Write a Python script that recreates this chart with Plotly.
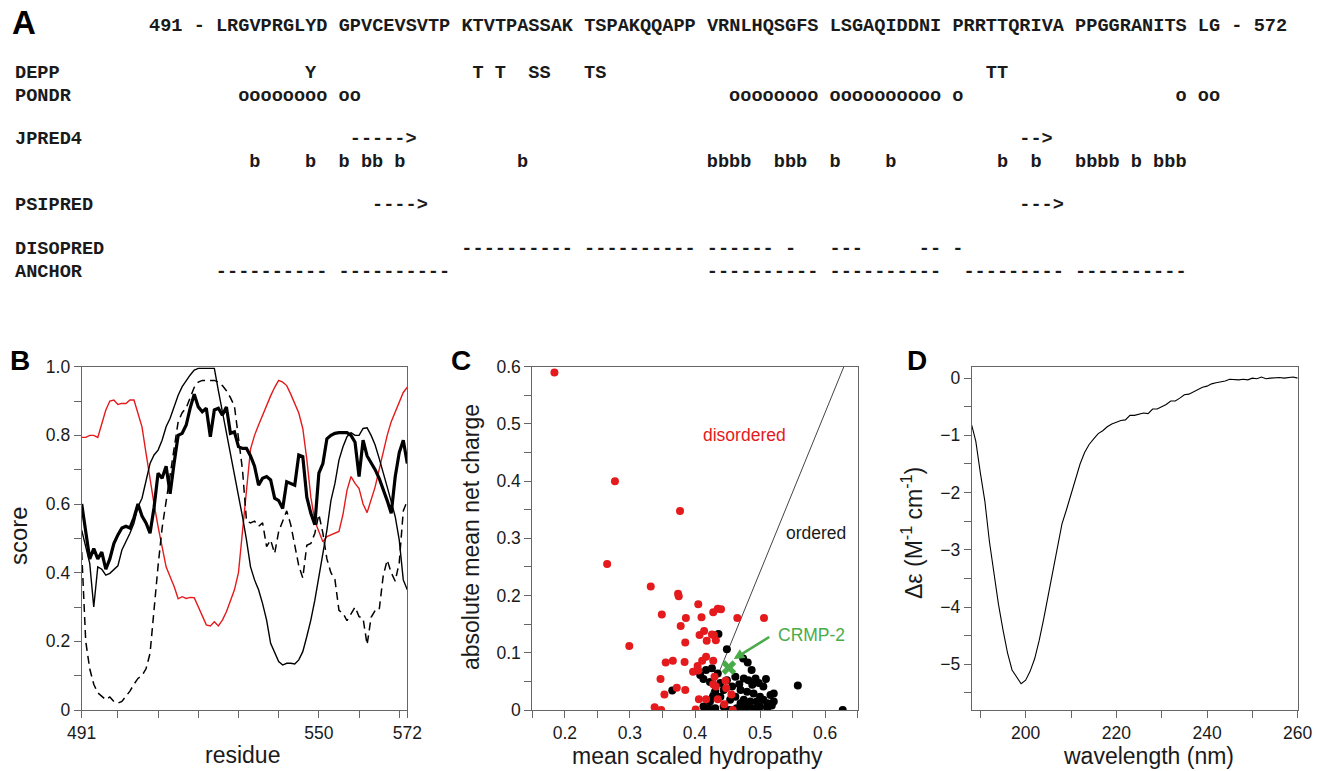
import plotly.graph_objects as go

W, H = 1321, 771

# ---------------- Panel A data ----------------
sequence = "LRGVPRGLYDGPVCEVSVTPKTVTPASSAKTSPAKQQAPPVRNLHQSGFSLSGAQIDDNIPRRTTQRIVAPPGGRANITSLG"
seq_start, seq_end = 491, 572
track_labels = ["DEPP", "PONDR", "JPRED4", "", "PSIPRED", "DISOPRED", "ANCHOR"]
track_marks = [
    "        Y " + "          " + " T T  SS  " + "TS        " + "          " + "          " + "   TT     " + "          " + "  ",
    "  oooooooo" + "oo        " + "          " + "          " + "  oooooooo" + "oooooooooo" + "o         " + "         o" + "oo",
    "          " + " ----->   " + "          " + "          " + "          " + "          " + "      --> " + "          " + "  ",
    "   b    b " + "b bb b    " + "     b    " + "          " + "bbbb  bbb " + "b    b    " + "    b  b  " + "bbbb b bbb" + "  ",
    "          " + "   ---->  " + "          " + "          " + "          " + "          " + "      --->" + "          " + "  ",
    "          " + "          " + "----------" + "----------" + "------ -  " + "---     --" + "-         " + "          " + "  ",
    "----------" + "----------" + "          " + "          " + "----------" + "----------" + " ---------" + "----------" + "  ",
]
for m in track_marks:
    assert len(m) == len(sequence), len(m)

# ---------------- Panel B data ----------------
residues = list(range(491, 573))
score_red = [
    0.794, 0.794, 0.80, 0.80, 0.794, 0.835, 0.874, 0.90, 0.903, 0.89,
    0.893, 0.893, 0.903, 0.903, 0.864, 0.825, 0.748, 0.67, 0.60, 0.534,
    0.476, 0.417, 0.388, 0.36, 0.324, 0.33, 0.325, 0.328, 0.327, 0.30,
    0.277, 0.248, 0.245, 0.257, 0.245, 0.262, 0.286, 0.316, 0.35, 0.40,
    0.51, 0.64, 0.76, 0.80, 0.83, 0.86, 0.89, 0.915, 0.94, 0.96,
    0.955, 0.945, 0.92, 0.89, 0.865, 0.82, 0.73, 0.62, 0.55, 0.52,
    0.49, 0.505, 0.51, 0.515, 0.52, 0.57, 0.64, 0.68, 0.66, 0.645,
    0.60, 0.575, 0.61, 0.65, 0.70, 0.75, 0.80, 0.84, 0.87, 0.90,
    0.925, 0.94,
]
score_thick = [
    0.60, 0.52, 0.44, 0.47, 0.44, 0.46, 0.41, 0.44, 0.485, 0.51,
    0.53, 0.535, 0.53, 0.56, 0.60, 0.565, 0.545, 0.515, 0.59, 0.69,
    0.675, 0.71, 0.63, 0.72, 0.80, 0.806, 0.83, 0.88, 0.92, 0.883,
    0.869, 0.879, 0.796, 0.874, 0.879, 0.859, 0.883, 0.806, 0.81, 0.767,
    0.762, 0.762, 0.74, 0.71, 0.655, 0.675, 0.68, 0.67, 0.617, 0.61,
    0.587, 0.665, 0.66, 0.655, 0.743, 0.738, 0.62, 0.573, 0.54, 0.69,
    0.718, 0.79, 0.80, 0.806, 0.808, 0.808, 0.808, 0.80, 0.78, 0.68,
    0.786, 0.74, 0.72, 0.70, 0.675, 0.645, 0.61, 0.573, 0.68, 0.75,
    0.786, 0.718,
]
score_thin = [
    0.524, 0.476, 0.427, 0.30, 0.417, 0.41, 0.393, 0.398, 0.408, 0.42,
    0.466, 0.49, 0.515, 0.544, 0.592, 0.617, 0.67, 0.718, 0.743, 0.757,
    0.786, 0.825, 0.85, 0.883, 0.917, 0.942, 0.961, 0.976, 0.99, 0.995,
    0.995, 0.995, 0.995, 0.995, 0.93, 0.87, 0.806, 0.74, 0.68, 0.62,
    0.563, 0.495, 0.417, 0.379, 0.35, 0.31, 0.262, 0.194, 0.165, 0.141,
    0.131, 0.136, 0.136, 0.134, 0.146, 0.17, 0.214, 0.262, 0.32, 0.388,
    0.456, 0.524, 0.61, 0.66, 0.728, 0.767, 0.796, 0.808, 0.80, 0.80,
    0.82, 0.822, 0.80, 0.772, 0.733, 0.694, 0.65, 0.607, 0.563, 0.495,
    0.379, 0.35,
]
score_dashed = [
    0.46, 0.20, 0.12, 0.075, 0.05, 0.04, 0.03, 0.038, 0.025, 0.02,
    0.025, 0.04, 0.055, 0.075, 0.092, 0.10, 0.12, 0.165, 0.30, 0.42,
    0.53, 0.61, 0.69, 0.77, 0.84, 0.866, 0.88, 0.91, 0.94, 0.955,
    0.96, 0.96, 0.96, 0.96, 0.955, 0.945, 0.93, 0.91, 0.885, 0.80,
    0.70, 0.55, 0.545, 0.55, 0.535, 0.545, 0.476, 0.495, 0.456, 0.52,
    0.55, 0.58, 0.54, 0.48, 0.42, 0.385, 0.48, 0.485, 0.515, 0.57,
    0.515, 0.44, 0.40, 0.38, 0.29, 0.282, 0.26, 0.28, 0.30, 0.272,
    0.267, 0.19, 0.27, 0.29, 0.291, 0.39, 0.437, 0.40, 0.375, 0.43,
    0.58, 0.61,
]
b_xtick_vals = [491, 500, 510, 520, 530, 540, 550, 560, 570, 572]
b_xtick_text = ["491", " ", " ", " ", " ", " ", "550", " ", " ", "572"]
b_ytick_vals = [0, 0.1, 0.2, 0.3, 0.4, 0.5, 0.6, 0.7, 0.8, 0.9, 1.0]
b_ytick_text = ["0", " ", "0.2", " ", "0.4", " ", "0.6", " ", "0.8", " ", "1.0"]

# ---------------- Panel C data ----------------
red_x = [0.184, 0.277, 0.377, 0.265, 0.332, 0.374, 0.375, 0.405, 0.349, 0.386,
         0.410, 0.428, 0.435, 0.440, 0.465, 0.506, 0.378, 0.414, 0.407, 0.426,
         0.429, 0.385, 0.418, 0.432, 0.299, 0.417, 0.411, 0.428, 0.366, 0.355,
         0.384, 0.404, 0.397, 0.405, 0.430, 0.347, 0.447, 0.372, 0.385, 0.428,
         0.432, 0.448, 0.353, 0.456, 0.406, 0.417, 0.435, 0.445, 0.338, 0.348,
         0.401, 0.458]
red_y = [0.590, 0.400, 0.348, 0.255, 0.216, 0.203, 0.199, 0.185, 0.167, 0.161,
         0.162, 0.171, 0.177, 0.176, 0.161, 0.161, 0.147, 0.138, 0.131, 0.132,
         0.131, 0.118, 0.121, 0.122, 0.112, 0.093, 0.086, 0.086, 0.086, 0.083,
         0.084, 0.077, 0.067, 0.069, 0.058, 0.054, 0.051, 0.039, 0.035, 0.045,
         0.041, 0.038, 0.027, 0.027, 0.019, 0.019, 0.019, 0.010, 0.005, 0.000,
         0.001, 0.000]
black_x = [0.365, 0.436, 0.449, 0.474, 0.481, 0.487, 0.417, 0.426, 0.408, 0.435,
           0.449, 0.462, 0.475, 0.482, 0.493, 0.509, 0.505, 0.521, 0.521, 0.511,
           0.500, 0.490, 0.480, 0.470, 0.462, 0.454, 0.470, 0.480, 0.490, 0.500,
           0.511, 0.423, 0.431, 0.439, 0.423, 0.413, 0.421, 0.431, 0.444, 0.464,
           0.475, 0.485, 0.495, 0.505, 0.457, 0.488, 0.498, 0.444, 0.516, 0.558,
           0.627, 0.413, 0.439, 0.453, 0.474, 0.496, 0.518, 0.428, 0.468]
black_y = [0.034, 0.133, 0.106, 0.090, 0.083, 0.070, 0.070, 0.073, 0.061, 0.064,
           0.052, 0.058, 0.055, 0.052, 0.055, 0.054, 0.041, 0.029, 0.015, 0.012,
           0.023, 0.029, 0.032, 0.035, 0.023, 0.018, 0.012, 0.006, 0.003, 0.006,
           0.003, 0.049, 0.032, 0.023, 0.015, 0.006, 0.003, 0.003, 0.006, 0.003,
           0.018, 0.015, 0.015, 0.018, 0.041, 0.044, 0.047, 0.035, 0.026, 0.043,
           0.000, 0.054, 0.047, 0.000, 0.000, 0.000, 0.008, 0.024, 0.045]
crmp2_x = [0.452]
crmp2_y = [0.074]
boundary_x = [0.4133, 0.6287]
boundary_y = [0.0, 0.6]
c_xtick_vals = [0.15, 0.2, 0.25, 0.3, 0.35, 0.4, 0.45, 0.5, 0.55, 0.6, 0.65]
c_xtick_text = [" ", "0.2", " ", "0.3", " ", "0.4", " ", "0.5", " ", "0.6", " "]
c_ytick_vals = [0, 0.05, 0.1, 0.15, 0.2, 0.25, 0.3, 0.35, 0.4, 0.45, 0.5, 0.55, 0.6]
c_ytick_text = ["0", " ", "0.1", " ", "0.2", " ", "0.3", " ", "0.4", " ", "0.5", " ", "0.6"]

# ---------------- Panel D data ----------------
wavelength = [188.1, 189, 190, 191, 192, 193, 194, 195, 196, 197, 198, 199, 200,
              201, 202, 203, 204, 205, 206, 207, 208, 209, 210, 211, 212, 213, 214,
              215, 216, 217, 218, 219, 220, 221, 222, 223, 224, 225, 226, 227, 228,
              229, 230, 231, 232, 233, 234, 235, 236, 237, 238, 239, 240, 241, 242,
              243, 244, 245, 246, 247, 248, 249, 250, 251, 252, 253, 254, 255, 256,
              257, 258, 259, 260]
delta_eps = [-0.82, -1.10, -1.65, -2.15, -2.85, -3.45, -3.95, -4.40, -4.80, -5.10,
             -5.22, -5.34, -5.28, -5.12, -4.90, -4.58, -4.20, -3.80, -3.35, -2.95,
             -2.55, -2.30, -2.02, -1.75, -1.50, -1.30, -1.16, -1.06, -0.97, -0.92,
             -0.85, -0.80, -0.77, -0.74, -0.73, -0.65, -0.65, -0.63, -0.61, -0.62,
             -0.54, -0.54, -0.50, -0.46, -0.40, -0.40, -0.35, -0.29, -0.28, -0.24,
             -0.19, -0.16, -0.14, -0.10, -0.08, -0.07, -0.05, -0.02, -0.03, -0.03,
             -0.02, -0.03, 0.00, -0.01, 0.02, -0.01, 0.00, 0.01, 0.01, 0.00,
             0.01, 0.02, 0.00]
d_xtick_vals = [190, 200, 210, 220, 230, 240, 250, 260]
d_xtick_text = [" ", "200", " ", "220", " ", "240", " ", "260"]
d_ytick_vals = [-5.5, -5, -4.5, -4, -3.5, -3, -2.5, -2, -1.5, -1, -0.5, 0]
d_ytick_text = [" ", "\u22125", " ", "\u22124", " ", "\u22123", " ", "\u22122", " ", "\u22121", " ", "0"]

# ---------------- Layout helpers ----------------
def px_x(x):
    return x / W

def px_y(y):
    return 1 - y / H

SANS = "Liberation Sans"
MONO = "Liberation Mono"
RED = "#e41a1c"
GREEN = "#4aac48"
AX = "#666666"
TXT = "#1a1a1a"

top_px, bot_px = 366.7, 710.0
ydom = [px_y(bot_px), px_y(top_px)]

def axis_style(domain, rng, tv, tt, anchor):
    return dict(domain=domain, range=rng, tickvals=tv, ticktext=tt, anchor=anchor,
                showline=True, linecolor=AX, linewidth=1, mirror=True,
                ticks="outside", ticklen=7, tickwidth=1, tickcolor=AX,
                showgrid=False, zeroline=False, automargin=False, tickangle=0,
                tickfont=dict(family=SANS, size=17.5, color=TXT))

fig = go.Figure()

# Panel B traces
fig.add_trace(go.Scatter(x=residues, y=score_red, mode="lines",
                         line=dict(color=RED, width=1.4), xaxis="x", yaxis="y"))
fig.add_trace(go.Scatter(x=residues, y=score_dashed, mode="lines",
                         line=dict(color="black", width=1.5, dash="8px,5px"), xaxis="x", yaxis="y"))
fig.add_trace(go.Scatter(x=residues, y=score_thin, mode="lines",
                         line=dict(color="black", width=1.4), xaxis="x", yaxis="y"))
fig.add_trace(go.Scatter(x=residues, y=score_thick, mode="lines",
                         line=dict(color="black", width=3.2), xaxis="x", yaxis="y"))

# Panel C traces
fig.add_trace(go.Scatter(x=boundary_x, y=boundary_y, mode="lines",
                         line=dict(color="#444444", width=1), xaxis="x2", yaxis="y2"))
fig.add_trace(go.Scatter(x=black_x, y=black_y, mode="markers",
                         marker=dict(color="black", size=8), xaxis="x2", yaxis="y2"))
fig.add_trace(go.Scatter(x=red_x, y=red_y, mode="markers",
                         marker=dict(color=RED, size=8), xaxis="x2", yaxis="y2"))
fig.add_trace(go.Scatter(x=crmp2_x, y=crmp2_y, mode="markers",
                         marker=dict(color=GREEN, size=13, symbol="x", line=dict(width=0)),
                         xaxis="x2", yaxis="y2"))

# Panel D trace
fig.add_trace(go.Scatter(x=wavelength, y=delta_eps, mode="lines",
                         line=dict(color="black", width=1.1), xaxis="x3", yaxis="y3"))

annotations = []

def add_text(text, x, y, size, color=TXT, weight="normal", family=SANS,
             xanchor="center", yanchor="middle", angle=0):
    annotations.append(dict(text=text, x=px_x(x), y=px_y(y), xref="paper", yref="paper",
                            showarrow=False, xanchor=xanchor, yanchor=yanchor,
                            textangle=angle,
                            font=dict(family=family, size=size, color=color, weight=weight)))

# Panel A text rows (monospace grid: column 0 at x=15 px, 11.16 px per column)
COL0 = 13
MONO_SIZE = 18.6
PITCH = 0.6 * MONO_SIZE
blocks = [sequence[i:i + 10] for i in range(0, len(sequence), 10)]
seq_row = f"{seq_start} - " + " ".join(blocks) + f" - {seq_end}"
add_text(seq_row.replace(" ", "\u00a0"), COL0 + 12 * PITCH, 27, MONO_SIZE, weight=700,
         family=MONO, xanchor="left")
row_y = [73, 96, 139, 162, 206, 250, 272]
for lab, marks, yy in zip(track_labels, track_marks, row_y):
    mb = [marks[i:i + 10] for i in range(0, len(marks), 10)]
    row = lab.ljust(18) + " ".join(mb)
    add_text(row.rstrip().replace(" ", "\u00a0"), COL0, yy, MONO_SIZE, weight=700,
             family=MONO, xanchor="left")

# Panel letters
add_text("A", 24, 22, 33, color="black", weight=700)
add_text("B", 20, 360, 28, color="black", weight=700)
add_text("C", 461, 360, 28, color="black", weight=700)
add_text("D", 917, 360, 28, color="black", weight=700)

# Axis titles
add_text("score", 18, 536, 24, angle=-90)
add_text("residue", 242, 755, 23)
add_text("absolute mean net charge", 471, 537, 23, angle=-90)
add_text("mean scaled hydropathy", 697, 756, 23)
add_text("\u0394\u03b5 (M<sup>-1</sup> cm<sup>-1</sup>)", 912, 533, 23, angle=-90)
add_text("wavelength (nm)", 1148, 756, 23)

# Panel C labels
add_text("disordered", 744, 435, 17.5, color=RED)
add_text("ordered", 816, 533, 17.5)
add_text("CRMP-2", 776, 635, 17.5, color=GREEN, xanchor="left")
annotations.append(dict(x=0.4595, y=0.089, xref="x2", yref="y2", text="",
                        showarrow=True, ax=37, ay=-23, arrowhead=2, arrowsize=0.8,
                        arrowwidth=2.6, arrowcolor=GREEN, standoff=0))

fig.update_layout(
    width=W, height=H, autosize=False,
    margin=dict(l=0, r=0, t=0, b=0, pad=0, autoexpand=False),
    paper_bgcolor="white", plot_bgcolor="white",
    showlegend=False,
    xaxis=axis_style([px_x(81.7), px_x(407.3)], [491, 572], b_xtick_vals, b_xtick_text, "y"),
    yaxis=axis_style(ydom, [0, 1.0], b_ytick_vals, b_ytick_text, "x"),
    xaxis2=axis_style([px_x(532.3), px_x(857.7)], [0.15, 0.65], c_xtick_vals, c_xtick_text, "y2"),
    yaxis2=axis_style(ydom, [0, 0.6], c_ytick_vals, c_ytick_text, "x2"),
    xaxis3=axis_style([px_x(971.7), px_x(1297.7)], [188.1, 260], d_xtick_vals, d_xtick_text, "y3"),
    yaxis3=axis_style(ydom, [-5.8, 0.2], d_ytick_vals, d_ytick_text, "x3"),
    annotations=annotations,
)

fig.write_html("out.html", post_script="document.body.style.margin='0';",
               config={"displayModeBar": False})
